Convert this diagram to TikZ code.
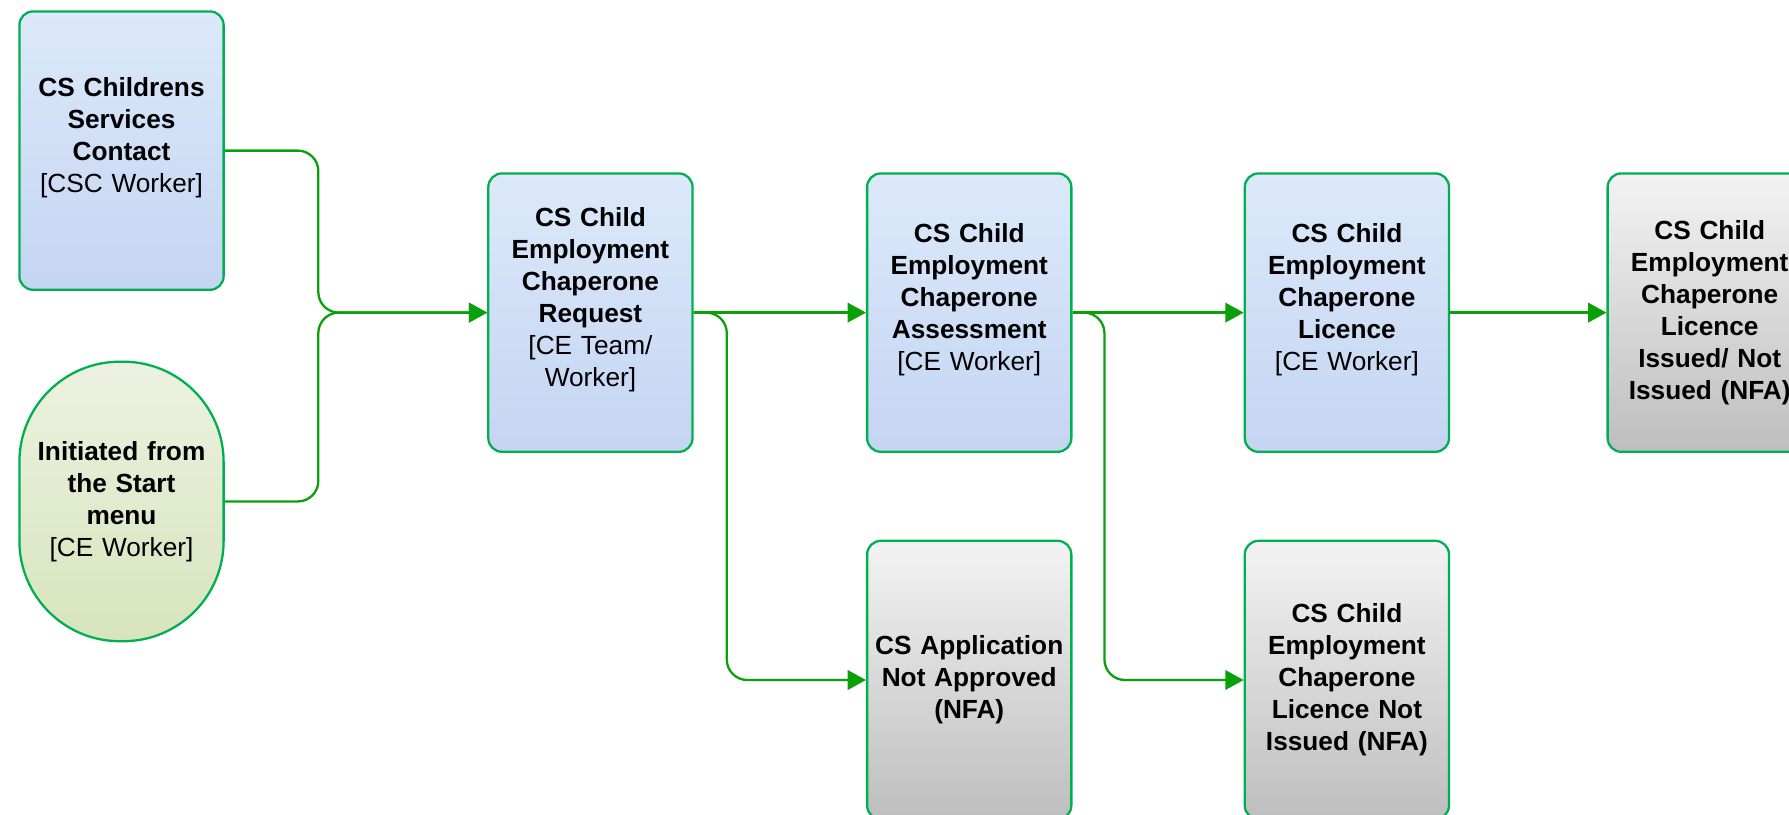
\documentclass[tikz,border=0pt]{standalone}
\usepackage{fontspec}
\setmainfont{Liberation Sans}
\usetikzlibrary{arrows.meta}
\usetikzlibrary{positioning}
\usepackage{xcolor}
\definecolor{boxline}{RGB}{0,176,80}
\definecolor{linkgreen}{RGB}{10,160,10}
\definecolor{bluetop}{RGB}{219,233,250}
\definecolor{bluebot}{RGB}{197,213,242}
\definecolor{greytop}{RGB}{243,243,243}
\definecolor{greybot}{RGB}{190,190,190}
\definecolor{greentop}{RGB}{236,242,224}
\definecolor{greenbot}{RGB}{215,228,189}
\tikzstyle{flow} = [line width=1pt, draw=linkgreen, rounded corners=9pt, -{Triangle[length=8pt,width=8.5pt]}, color=linkgreen]
\tikzstyle{process} = [rectangle, rounded corners=6pt, minimum width=89.5pt, minimum height=122pt, text width=86pt, inner sep=1pt, align=center, draw=boxline, line width=1pt, top color=bluetop, bottom color=bluebot, font=\fontsize{11.5}{14}\selectfont]
\tikzstyle{nfa} = [process, top color=greytop, bottom color=greybot]
\tikzstyle{startoval} = [process, rounded corners=44pt, minimum height=122.5pt, top color=greentop, bottom color=greenbot]

\begin{document}
\begin{tikzpicture}
      \useasboundingbox (0,0) rectangle (784pt,-357pt);
      \node (Contact) [process] at (53.25pt,-66pt) {\textbf{CS Childrens}\\ \textbf{Services}\\ \textbf{Contact}\\ {[CSC Worker]}\\ \mbox{}};
      \node (StartMenu) [startoval] at (53.25pt,-219.75pt) {\textbf{Initiated from}\\ \textbf{the Start}\\ \textbf{menu}\\ {[CE Worker]}};

      \node (Request) [process] at (258.75pt,-137pt) {\textbf{CS Child}\\ \textbf{Employment}\\ \textbf{Chaperone}\\ \textbf{Request}\\ {[CE Team/}\\ Worker]\\ \mbox{}};
      \node (Assessment) [process, right=75.5pt of Request] {\textbf{CS Child}\\ \textbf{Employment}\\ \textbf{Chaperone}\\ \textbf{Assessment}\\ {[CE Worker]}\\ \mbox{}};
      \node (Licence) [process, right=75pt of Assessment] {\textbf{CS Child}\\ \textbf{Employment}\\ \textbf{Chaperone}\\ \textbf{Licence}\\ {[CE Worker]}\\ \mbox{}};
      \node (Issued) [nfa, right=68.5pt of Licence] {\textbf{CS Child}\\ \textbf{Employment}\\ \textbf{Chaperone}\\ \textbf{Licence}\\ \textbf{Issued/ Not}\\ \textbf{Issued (NFA)}};

      \node (NotApproved) [nfa, below=38pt of Assessment] {\textbf{CS Application}\\ \textbf{Not Approved}\\ \textbf{(NFA)}};
      \node (NotIssued) [nfa, below=38pt of Licence] {\textbf{CS Child}\\ \textbf{Employment}\\ \textbf{Chaperone}\\ \textbf{Licence Not}\\ \textbf{Issued (NFA)}};

      % both starts join before the request
      \coordinate (join) at (139.5pt,-137pt);
      \draw [flow] (Contact.east) -| (join) -- (Request.west);
      \draw [flow] (StartMenu.east) -| (join) -- (Request.west);

      \draw [flow] (Request) -- (Assessment);
      \draw [flow] (Request.east) -- ++(14.5pt,0) |- (NotApproved.west);
      \draw [flow] (Assessment) -- (Licence);
      \draw [flow] (Assessment.east) -- ++(14pt,0) |- (NotIssued.west);
      \draw [flow] (Licence) -- (Issued);
    \end{tikzpicture}
\end{document}
